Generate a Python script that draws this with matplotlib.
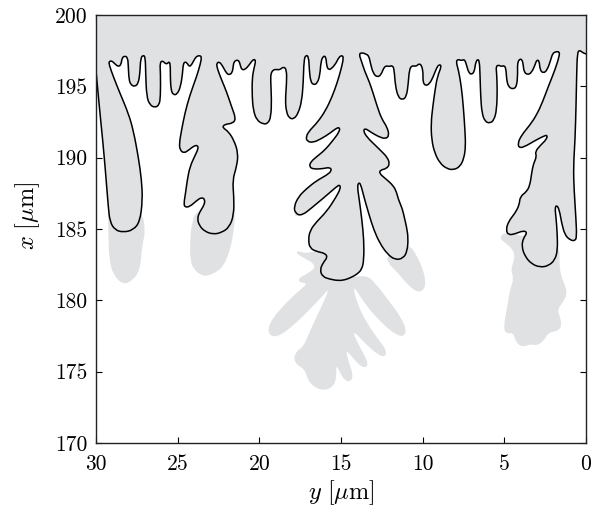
import numpy as np
import matplotlib
matplotlib.use("Agg")
import matplotlib.pyplot as plt
from matplotlib.path import Path
from matplotlib.patches import PathPatch

plt.rcParams['font.family'] = 'cmr10'
plt.rcParams['mathtext.fontset'] = 'cm'
plt.rcParams['axes.formatter.use_mathtext'] = True

# solid/liquid interface at the earlier time (y, x in um), left wall -> right wall
interface_y = [30.00, 29.80, 29.59, 29.41, 29.25, 29.15, 28.84, 28.33, 27.72, 27.31,
               27.15, 27.21, 27.41, 27.72, 28.02, 28.53, 28.94, 29.19, 29.21, 29.04,
               28.84, 28.64, 28.47, 28.41, 28.27, 28.06, 28.02, 27.98, 27.86, 27.62,
               27.41, 27.31, 27.27, 27.11, 26.98, 26.96, 26.90, 26.70, 26.39, 26.13,
               26.05, 26.05, 26.09, 25.92, 25.78, 25.64, 25.54, 25.45, 25.45, 25.41,
               25.27, 25.03, 24.82, 24.70, 24.66, 24.54, 24.41, 24.29, 24.15, 23.94,
               23.80, 23.62, 23.54, 23.60, 23.84, 24.25, 24.56, 24.76, 24.90, 24.86,
               24.62, 24.31, 24.01, 23.78, 23.74, 23.92, 24.25, 24.41, 24.52, 24.62,
               24.56, 24.25, 23.84, 23.54, 23.33, 23.37, 23.64, 23.80, 23.68, 23.33,
               22.82, 22.31, 21.84, 21.56, 21.56, 21.64, 21.39, 21.29, 21.56, 21.90,
               22.17, 22.25, 22.01, 21.64, 21.43, 21.70, 22.01, 22.31, 22.58, 22.62,
               22.45, 22.25, 22.01, 21.84, 21.66, 21.60, 21.56, 21.39, 21.23, 21.15,
               21.05, 20.86, 20.62, 20.41, 20.27, 20.23, 20.33, 20.44, 20.44, 20.37,
               20.17, 19.76, 19.46, 19.29, 19.25, 19.31, 19.29, 19.15, 18.98, 18.74,
               18.53, 18.33, 18.33, 18.41, 18.35, 18.17, 17.88, 17.62, 17.41, 17.31,
               17.27, 17.15, 16.98, 16.94, 16.86, 16.68, 16.45, 16.29, 16.23, 16.09,
               15.92, 15.88, 15.76, 15.56, 15.31, 15.13, 14.94, 14.84, 14.98, 15.23,
               15.56, 15.96, 16.45, 16.90, 17.15, 17.07, 16.70, 16.19, 15.68, 15.27,
               15.07, 15.11, 15.47, 15.98, 16.49, 16.86, 16.94, 16.70, 16.09, 15.68,
               15.56, 15.88, 16.49, 17.11, 17.60, 17.88, 17.80, 17.41, 16.70, 15.88,
               15.27, 15.07, 15.03, 15.31, 15.88, 16.49, 16.90, 17.00, 16.90, 16.49,
               15.98, 15.82, 16.09, 16.29, 16.13, 15.68, 15.17, 14.76, 14.35, 14.00,
               13.72, 13.60, 13.60, 13.72, 13.88, 14.00, 13.92, 13.80, 13.60, 13.31,
               12.99, 12.62, 12.17, 11.68, 11.19, 10.95, 10.88, 10.99, 11.11, 11.25,
               11.48, 11.64, 11.90, 12.31, 12.66, 12.58, 12.21, 12.01, 12.17, 12.50,
               12.92, 13.39, 13.64, 13.52, 13.23, 12.72, 12.27, 12.05, 12.17, 12.52,
               12.78, 13.03, 13.27, 13.54, 13.76, 13.90, 13.72, 13.48, 13.29, 13.19,
               13.03, 12.78, 12.54, 12.41, 12.25, 12.05, 11.84, 11.74, 11.68, 11.50,
               11.23, 10.99, 10.88, 10.82, 10.66, 10.41, 10.21, 10.05, 9.97, 9.99,
               9.84, 9.58, 9.35, 9.15, 8.99, 8.84, 9.10, 9.24, 9.38, 9.49,
               9.45, 9.26, 8.94, 8.53, 8.12, 7.71, 7.47, 7.37, 7.41, 7.51,
               7.63, 7.81, 7.96, 7.83, 7.63, 7.43, 7.30, 7.18, 7.00, 6.83,
               6.77, 6.65, 6.53, 6.49, 6.45, 6.37, 6.18, 5.88, 5.63, 5.47,
               5.43, 5.47, 5.51, 5.37, 5.16, 5.02, 4.90, 4.86, 4.75, 4.49,
               4.24, 4.18, 4.20, 4.08, 3.92, 3.84, 3.80, 3.59, 3.33, 3.12,
               3.02, 2.86, 2.82, 2.61, 2.37, 2.16, 2.04, 1.84, 1.63, 1.63,
               1.90, 2.31, 2.65, 3.02, 3.43, 3.94, 4.18, 4.08, 3.67, 3.12,
               2.57, 2.37, 2.41, 2.77, 3.12, 3.02, 3.22, 3.33, 3.43, 3.63,
               4.04, 4.08, 4.35, 4.75, 4.90, 4.75, 4.35, 3.84, 3.59, 3.84,
               3.94, 3.73, 3.33, 2.82, 2.31, 1.90, 1.74, 1.76, 1.84, 1.90,
               1.80, 1.63, 1.49, 1.29, 0.98, 0.67, 0.57, 0.61, 0.73, 0.77,
               0.67, 0.61, 0.57, 0.53, 0.41, 0.20, 0.00]
interface_x = [196.10, 193.58, 191.24, 188.91, 186.57, 185.52, 184.93, 184.77, 184.93, 185.52,
               187.04, 188.44, 190.07, 191.94, 193.11, 194.51, 195.68, 196.50, 196.73, 196.80,
               196.57, 196.38, 196.50, 196.97, 197.13, 197.04, 196.38, 195.45, 195.10, 194.98,
               195.21, 195.91, 196.96, 197.20, 197.04, 195.91, 194.28, 193.69, 193.51, 193.69,
               194.28, 195.91, 196.66, 196.80, 196.61, 196.57, 196.73, 196.57, 195.68, 194.75,
               194.40, 194.44, 194.98, 195.91, 196.57, 196.73, 196.61, 196.38, 196.50, 196.97,
               197.13, 197.15, 197.04, 196.61, 195.68, 194.40, 193.11, 191.94, 191.01, 190.54,
               190.31, 190.54, 190.82, 190.87, 190.63, 190.19, 189.37, 188.44, 187.50, 186.80,
               186.52, 186.57, 186.99, 187.22, 187.08, 186.69, 186.22, 185.75, 185.24, 184.82,
               184.63, 184.75, 185.12, 185.99, 187.27, 188.44, 189.37, 190.31, 191.24, 191.83,
               192.04, 192.22, 192.36, 192.41, 192.71, 193.58, 194.63, 195.45, 196.26, 196.61,
               196.73, 196.43, 195.91, 195.80, 195.96, 196.38, 196.71, 196.85, 196.78, 196.38,
               196.15, 196.19, 196.50, 196.85, 196.89, 196.71, 196.26, 195.56, 194.28, 193.34,
               192.64, 192.34, 192.41, 192.88, 194.05, 195.45, 195.91, 196.15, 196.19, 196.15,
               196.38, 196.19, 195.21, 194.05, 193.23, 192.76, 192.71, 193.11, 193.93, 195.21,
               196.85, 197.20, 197.08, 196.15, 195.33, 195.10, 195.21, 195.80, 196.73, 197.13,
               197.08, 196.43, 196.15, 196.26, 196.61, 197.04, 197.18, 197.01, 196.26, 195.26,
               194.23, 193.27, 192.46, 191.94, 191.48, 191.13, 191.06, 191.34, 191.71, 192.08,
               192.11, 191.80, 191.24, 190.54, 190.07, 189.70, 189.37, 189.19, 189.23, 189.33,
               189.09, 188.77, 188.39, 187.83, 187.27, 186.57, 186.10, 185.92, 186.57, 187.36,
               187.97, 188.11, 187.83, 187.22, 186.22, 185.52, 184.89, 184.23, 183.65, 183.42,
               183.30, 183.02, 182.65, 182.13, 181.66, 181.48, 181.38, 181.43, 181.62, 181.85,
               182.18, 182.83, 184.23, 185.64, 187.04, 187.97, 188.25, 188.16, 187.27, 186.10,
               184.93, 184.00, 183.25, 182.83, 182.95, 183.42, 184.35, 185.17, 185.75, 186.45,
               187.04, 187.74, 188.16, 188.56, 188.91, 189.14, 189.23, 189.56, 190.03, 190.42,
               190.89, 191.41, 191.87, 192.06, 191.83, 191.48, 191.31, 191.55, 192.13, 192.74,
               193.58, 194.51, 195.33, 196.03, 196.80, 197.27, 197.36, 197.27, 197.13, 196.57,
               195.91, 195.63, 195.82, 196.24, 196.45, 196.38, 196.47, 196.15, 195.10, 194.23,
               194.05, 194.28, 195.21, 196.15, 196.47, 196.38, 196.61, 196.43, 195.91, 195.33,
               195.03, 195.17, 195.68, 196.29, 196.54, 196.43, 195.68, 194.75, 193.58, 192.41,
               191.24, 190.31, 189.61, 189.23, 189.14, 189.37, 189.96, 190.78, 191.94, 193.58,
               194.98, 196.15, 196.73, 196.90, 196.80, 196.90, 196.43, 195.96, 195.82, 196.05,
               196.61, 196.90, 196.80, 195.91, 194.28, 193.11, 192.53, 192.41, 192.64, 193.34,
               194.75, 195.91, 196.38, 196.50, 196.38, 196.47, 196.26, 195.45, 194.98, 194.79,
               194.98, 195.91, 196.61, 196.90, 196.90, 196.50, 196.03, 195.80, 195.96, 196.50,
               196.85, 196.80, 196.15, 195.91, 196.15, 196.85, 197.32, 197.43, 197.43, 197.13,
               196.15, 194.98, 193.93, 193.00, 192.29, 191.59, 191.01, 190.66, 190.82, 191.20,
               191.52, 191.59, 191.29, 190.89, 190.42, 190.07, 189.56, 188.91, 188.09, 187.62,
               187.27, 186.69, 186.10, 185.52, 184.93, 184.58, 184.65, 184.89, 184.75, 184.35,
               183.77, 183.07, 182.55, 182.32, 182.41, 182.83, 183.53, 184.70, 185.87, 186.45,
               186.69, 186.34, 185.40, 184.58, 184.23, 184.16, 184.47, 185.64, 187.74, 189.37,
               191.24, 193.58, 195.91, 197.32, 197.55, 197.36, 197.27]

# later solid (grey) that has grown past the interface
tip1_y = [29.25, 29.25, 29.19, 28.94, 28.33, 27.72, 27.31, 27.20, 27.10, 27.00, 27.10, 28.2]
tip1_x = [187.0, 184.70, 182.83, 181.78, 181.08, 181.43, 182.13, 183.53, 184.23, 184.70, 186.10, 186.5]

tip2_y = [21.55, 21.49, 21.59, 21.79, 22.20, 22.82, 23.43, 24.00, 24.24, 24.24, 24.14, 23.83, 22.5]
tip2_x = [187.0, 185.87, 184.70, 183.53, 182.36, 181.85, 181.66, 182.13, 182.83, 184.23, 185.40, 186.33, 186.5]

center_y = [15.68, 17.06, 17.68, 17.72, 17.31, 16.45, 17.06, 17.60, 17.55, 17.00,
            17.76, 18.53, 19.19, 19.49, 19.31, 18.74, 17.88, 17.00, 16.19, 15.68,
            16.19, 16.70, 17.06, 17.31, 17.68, 17.92, 17.68, 17.21, 17.06, 16.60,
            15.98, 15.47, 15.27, 15.31, 15.02, 14.70, 14.35, 14.27, 14.54, 14.72,
            14.19, 13.70, 13.37, 13.41, 13.84, 14.37, 13.47, 12.74, 12.29, 12.21,
            12.66, 13.39, 14.01, 14.31, 13.47, 12.45, 11.64, 11.15, 10.99, 11.35,
            12.11, 12.86, 13.43, 14.66]
center_x = [183.77, 183.25, 183.49, 183.25, 183.02, 182.41, 181.85, 181.57, 181.25, 181.20,
            180.50, 179.61, 178.75, 177.97, 177.46, 177.51, 178.28, 179.26, 180.22, 180.92,
            179.56, 178.35, 177.41, 176.76, 176.48, 175.94, 175.45, 175.17, 174.47, 173.86,
            173.68, 173.96, 174.61, 175.55, 174.82, 174.31, 174.35, 174.84, 175.71, 176.60,
            175.83, 175.29, 175.36, 175.83, 176.69, 178.00, 176.92, 176.18, 176.04, 176.48,
            177.18, 178.35, 179.75, 181.20, 179.61, 178.35, 177.58, 177.46, 177.93, 178.86,
            180.03, 181.15, 181.78, 181.55]

branch_y = [12.21, 10.88, 10.37, 9.97, 9.80, 9.97, 10.41, 10.99, 11.60, 12.11]
branch_x = [183.18, 184.00, 183.18, 182.13, 181.20, 180.66, 180.59, 181.20, 182.02, 182.60]

side_y = [17.51, 17.88, 17.82, 17.41]
side_x = [186.57, 186.22, 185.87, 185.99]

right_y = [3.84, 4.96, 5.31, 4.96, 4.45, 4.35, 4.62, 4.41, 4.66, 4.82,
           5.06, 4.86, 4.45, 4.29, 3.88, 3.39, 3.02, 2.57, 2.31, 1.84,
           1.49, 1.56, 1.76, 1.39, 1.15, 1.29, 1.56, 1.64, 1.60, 2.00]
right_x = [184.47, 184.82, 184.35, 184.05, 183.54, 182.95, 182.13, 181.55, 180.73, 179.57,
           178.05, 177.65, 177.74, 177.04, 176.71, 176.95, 176.81, 177.18, 177.74, 177.81,
           178.12, 178.75, 179.33, 179.92, 180.45, 181.08, 181.78, 182.83, 183.54, 184.24]

xticks = [30, 25, 20, 15, 10, 5, 0]
yticks = [170, 175, 180, 185, 190, 195, 200]

grey = '#e0e1e3'


def smooth_verts(ys, xs, closed=False):
    # points are used as quadratic bezier control points
    p = np.column_stack([ys, xs])
    if closed:
        p = np.vstack([p, p[:2]])
    mids = (p[:-1] + p[1:]) / 2
    verts = [mids[0] if closed else p[0]]
    codes = [Path.MOVETO]
    for i in range(1, len(p) - 1):
        verts += [p[i], mids[i]]
        codes += [Path.CURVE3, Path.CURVE3]
    if closed:
        verts.append(mids[0])
        codes.append(Path.CLOSEPOLY)
    else:
        verts.append(p[-1])
        codes.append(Path.LINETO)
    return verts, codes


fig = plt.figure(figsize=(6.04, 5.13), dpi=100)
ax = fig.add_axes([96 / 604, 70 / 513, 490 / 604, 428 / 513])

for by, bx in [(tip1_y, tip1_x), (tip2_y, tip2_x), (center_y, center_x),
               (branch_y, branch_x), (side_y, side_x), (right_y, right_x)]:
    v, c = smooth_verts(by, bx, closed=True)
    ax.add_patch(PathPatch(Path(v, c), fc=grey, ec='none'))

v, c = smooth_verts(interface_y, interface_x)
# close the solid region along the top of the domain
top_v = v + [(0, 200), (30, 200), v[0]]
top_c = c + [Path.LINETO, Path.LINETO, Path.CLOSEPOLY]
ax.add_patch(PathPatch(Path(top_v, top_c), fc=grey, ec='none'))
ax.add_patch(PathPatch(Path(v, c), fc='none', ec='k', lw=1.1,
                       joinstyle='round', capstyle='round'))

ax.set_xlim(30, 0)
ax.set_ylim(170, 200)
ax.set_xticks(xticks)
ax.set_xticklabels([str(t) for t in xticks])
ax.set_yticks(yticks)
ax.set_yticklabels([str(t) for t in yticks])
ax.set_axisbelow(True)
ax.tick_params(direction='in', top=True, right=True, length=4, width=0.8,
               labelsize=15.5)
ax.tick_params(axis='x', pad=8)
ax.tick_params(axis='y', pad=6)
for s in ax.spines.values():
    s.set_linewidth(1.0)
    s.set_color('#222222')
    s.set_zorder(3)

ax.set_xlabel(r'$y\ [\mu\mathrm{m}]$', fontsize=17.5, labelpad=3)
ax.set_ylabel(r'$x\ [\mu\mathrm{m}]$', fontsize=17.5)
ax.yaxis.set_label_coords(-0.11, 0.53)

fig.savefig('out.png', dpi=100)
